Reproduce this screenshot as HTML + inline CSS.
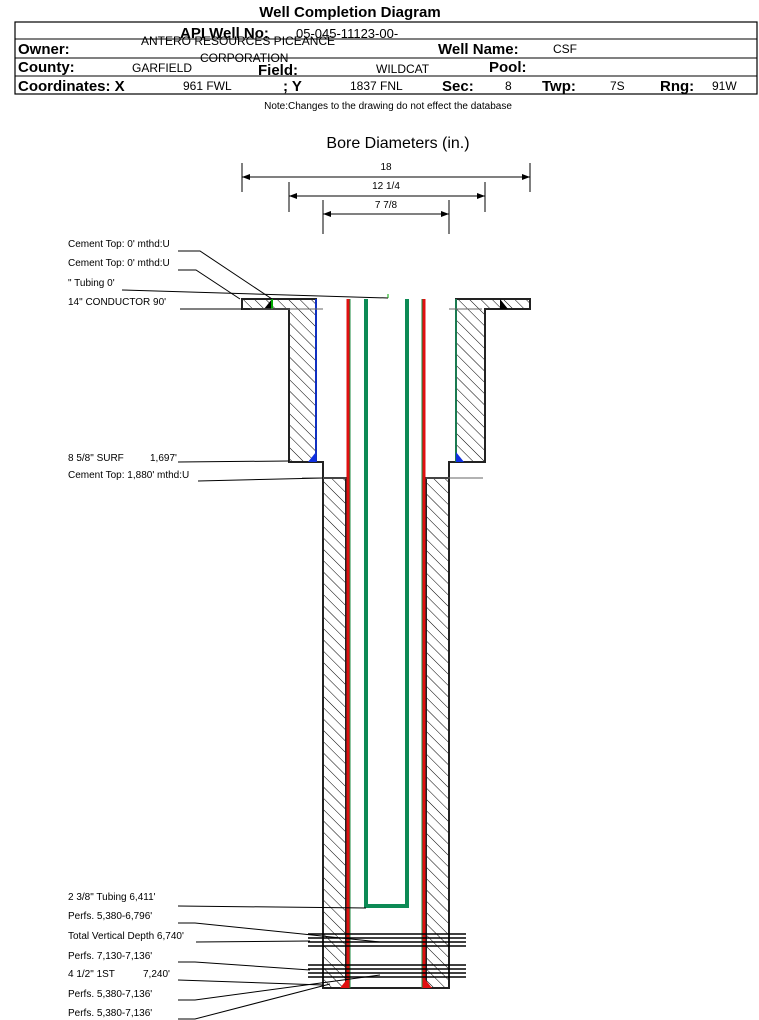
<!DOCTYPE html>
<html><head><meta charset="utf-8"><style>
body{margin:0;background:#fff}
svg{display:block;font-family:"Liberation Sans",sans-serif}
</style></head><body>
<svg width="759" height="1020" viewBox="0 0 759 1020" xmlns="http://www.w3.org/2000/svg">
<defs>
<pattern id="h" width="8" height="8" patternUnits="userSpaceOnUse" patternTransform="rotate(-45)">
<rect width="8" height="8" fill="#fff"/><line x1="0" y1="0" x2="0" y2="8" stroke="#000" stroke-width="1"/>
</pattern>
</defs>
<text x="350" y="17" font-size="15" font-weight="bold" text-anchor="middle">Well Completion Diagram</text>
<rect x="15" y="22" width="742" height="72" fill="none" stroke="#000" stroke-width="1.2"/>
<line x1="15" y1="39" x2="757" y2="39" stroke="#000"/>
<line x1="15" y1="58" x2="757" y2="58" stroke="#000"/>
<line x1="15" y1="76" x2="757" y2="76" stroke="#000"/>
<g font-size="15" font-weight="bold">
<text x="180" y="38">API Well No:</text>
<text x="18" y="54">Owner:</text>
<text x="438" y="54">Well Name:</text>
<text x="18" y="72">County:</text>
<text x="258" y="75">Field:</text>
<text x="489" y="72">Pool:</text>
<text x="18" y="91">Coordinates: X</text>
<text x="283" y="91">; Y</text>
<text x="442" y="91">Sec:</text>
<text x="542" y="91">Twp:</text>
<text x="660" y="91">Rng:</text>
</g>
<g font-size="13">
<text x="296" y="38">05-045-11123-00-</text>
</g>
<g font-size="12">
<text x="141" y="45">ANTERO RESOURCES PICEANCE</text>
<text x="200" y="62">CORPORATION</text>
<text x="553" y="53">CSF</text>
<text x="132" y="72">GARFIELD</text>
<text x="376" y="73">WILDCAT</text>
<text x="183" y="90">961 FWL</text>
<text x="350" y="90">1837 FNL</text>
<text x="505" y="90">8</text>
<text x="610" y="90">7S</text>
<text x="712" y="90">91W</text>
</g>
<text x="388" y="109" font-size="10" text-anchor="middle">Note:Changes to the drawing do not effect the database</text>

<text x="398" y="148" font-size="16" text-anchor="middle">Bore Diameters (in.)</text>
<g stroke="#000" stroke-width="1" fill="none">
<line x1="242" y1="163" x2="242" y2="192"/><line x1="530" y1="163" x2="530" y2="192"/>
<line x1="242" y1="177" x2="530" y2="177"/>
<line x1="289" y1="182" x2="289" y2="212"/><line x1="485" y1="182" x2="485" y2="212"/>
<line x1="289" y1="196" x2="485" y2="196"/>
<line x1="323" y1="200" x2="323" y2="234"/><line x1="449" y1="200" x2="449" y2="234"/>
<line x1="323" y1="214" x2="449" y2="214"/>
</g>
<g fill="#000">
<path d="M242 177l8 -3v6z"/><path d="M530 177l-8 -3v6z"/>
<path d="M289 196l8 -3v6z"/><path d="M485 196l-8 -3v6z"/>
<path d="M323 214l8 -3v6z"/><path d="M449 214l-8 -3v6z"/>
</g>
<g font-size="10" text-anchor="middle">
<text x="386" y="170">18</text><text x="386" y="189">12 1/4</text><text x="386" y="208">7 7/8</text>
</g>

<g stroke="#222" stroke-width="2" fill="url(#h)">
<path d="M242 299H316V462H289V309H242Z"/>
<path d="M456 299H530V309H485V462H456Z"/>
<rect x="323" y="478" width="23" height="510"/>
<rect x="426" y="478" width="23" height="510"/>
</g>
<g stroke="#222" stroke-width="2" fill="none">
<path d="M289 462H323V988H449V462H485"/>
</g>
<line x1="316" y1="299" x2="316" y2="462" stroke="#1030c0" stroke-width="2"/>
<line x1="456" y1="299" x2="456" y2="462" stroke="#1a7a50" stroke-width="2"/>
<path d="M308 462L316 452V462Z" fill="#1030e0"/>
<path d="M456 462V452L464 462Z" fill="#1030e0"/>
<path d="M264 309L272 299V309Z" fill="#000"/><line x1="272" y1="299" x2="272" y2="309" stroke="#0a0" stroke-width="2"/>
<path d="M500 299L508 309H500Z" fill="#000"/>
<line x1="348" y1="299" x2="348" y2="988" stroke="#e01010" stroke-width="3"/>
<line x1="424" y1="299" x2="424" y2="988" stroke="#e01010" stroke-width="3"/>
<line x1="350" y1="299" x2="350" y2="988" stroke="#1a8a40" stroke-width="1"/>
<line x1="422" y1="299" x2="422" y2="988" stroke="#1a8a40" stroke-width="1"/>
<path d="M340 988L348 978V988Z" fill="#e01010"/><path d="M424 978L432 988H424Z" fill="#e01010"/>
<path d="M366 299V906H407V299" stroke="#0d8a55" stroke-width="4" fill="none"/>
<g stroke="#666" stroke-width="1">
<line x1="302" y1="478" x2="346" y2="478"/><line x1="426" y1="478" x2="483" y2="478"/>
<line x1="250" y1="309" x2="323" y2="309"/>
<line x1="449" y1="309" x2="482" y2="309"/>
</g>
<g stroke="#000" stroke-width="1.5">
<line x1="308" y1="934" x2="466" y2="934"/><line x1="308" y1="938" x2="466" y2="938"/>
<line x1="308" y1="942" x2="466" y2="942"/><line x1="308" y1="946" x2="466" y2="946"/>
<line x1="308" y1="965" x2="466" y2="965"/><line x1="308" y1="969" x2="466" y2="969"/>
<line x1="308" y1="973" x2="466" y2="973"/><line x1="308" y1="977" x2="466" y2="977"/>
</g>
<g font-size="10">
<text x="68" y="247">Cement Top: 0' mthd:U</text>
<text x="68" y="266">Cement Top: 0' mthd:U</text>
<text x="68" y="286">" Tubing 0'</text>
<text x="68" y="305">14" CONDUCTOR  90'</text>
<text x="68" y="461">8 5/8" SURF</text><text x="150" y="461">1,697'</text>
<text x="68" y="478">Cement Top: 1,880' mthd:U</text>
<text x="68" y="900">2 3/8" Tubing 6,411'</text>
<text x="68" y="919">Perfs. 5,380-6,796'</text>
<text x="68" y="939">Total Vertical Depth 6,740'</text>
<text x="68" y="959">Perfs. 7,130-7,136'</text>
<text x="68" y="977">4 1/2" 1ST</text><text x="143" y="977">7,240'</text>
<text x="68" y="997">Perfs. 5,380-7,136'</text>
<text x="68" y="1016">Perfs. 5,380-7,136'</text>
</g>
<g stroke="#000" stroke-width="1" fill="none">
<path d="M178 251H200L272 299"/>
<path d="M178 270H196L240 299"/>
<path d="M122 290L388 298"/>
<line x1="388" y1="294" x2="388" y2="298" stroke="#0a0"/>
<path d="M180 309H242"/>
<path d="M178 462L289 461"/>
<path d="M198 481L323 478"/>
<path d="M178 906L366 908"/>
<path d="M178 923H195L380 942"/>
<path d="M196 942L310 941"/>
<path d="M178 962H195L310 970"/>
<path d="M178 980L323 985"/>
<path d="M178 1000H195L380 975"/>
<path d="M178 1019H195L330 984"/>
</g>
</svg>
</body></html>
